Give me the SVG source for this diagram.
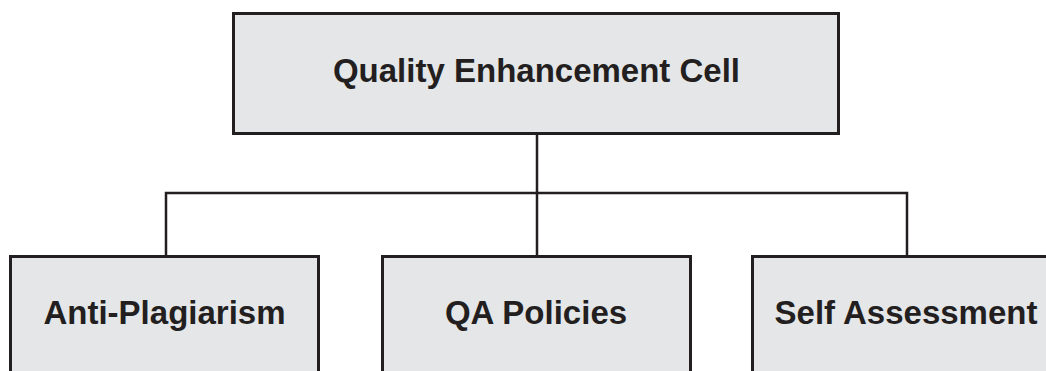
<svg xmlns="http://www.w3.org/2000/svg" width="1046" height="371" viewBox="0 0 1046 371">
<style>
.box{fill:#e5e6e8;stroke:#231f20;stroke-width:3}
.lbl{font-family:"Liberation Sans",Arial,sans-serif;font-weight:bold;font-size:33px;fill:#231f20;text-anchor:middle}
.conn{fill:none;stroke:#231f20;stroke-width:2.5}
</style>
<rect width="1046" height="371" fill="#ffffff"/>
<g id="connectors">
<path class="conn" d="M537 134 V193 M166 256 V193 H907 V256 M537 193 V256"/>
</g>
<g id="qec">
<rect class="box" x="233.5" y="13.5" width="605" height="120"/>
<text class="lbl" x="536.5" y="82">Quality Enhancement Cell</text>
</g>
<g id="anti-plagiarism">
<rect class="box" x="10.5" y="256.5" width="308" height="140"/>
<text class="lbl" x="164.5" y="324">Anti-Plagiarism</text>
</g>
<g id="qa-policies">
<rect class="box" x="382.5" y="256.5" width="308" height="140"/>
<text class="lbl" x="536" y="324">QA Policies</text>
</g>
<g id="self-assessment">
<rect class="box" x="752.5" y="256.5" width="308" height="140"/>
<text class="lbl" x="906" y="324">Self Assessment</text>
</g>
</svg>
